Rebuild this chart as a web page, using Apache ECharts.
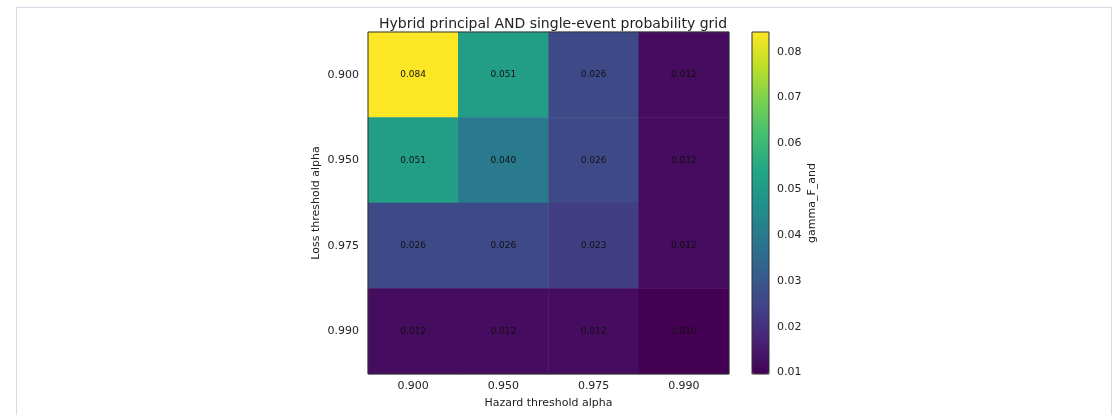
<!DOCTYPE html>
<html>
<head>
<meta charset="utf-8">
<script src="https://cdn.jsdelivr.net/npm/echarts@6/dist/echarts.min.js"></script>
<style>
html,body{margin:0;padding:0;background:#fff;}
#frame{position:absolute;left:16px;top:7px;width:1094px;height:420px;border:1px solid #d5dce8;border-bottom:none;}
#main{position:absolute;left:0;top:0;width:1117px;height:415px;}
</style>
</head>
<body>
<div id="frame"></div>
<div id="main"></div>
<script>
// hazard alpha (columns) / loss alpha (rows)
var hazardAlpha = ['0.900', '0.950', '0.975', '0.990'];
var lossAlpha = ['0.900', '0.950', '0.975', '0.990'];
// gamma_F_and, one array per loss row
var row900 = [0.0843, 0.0512, 0.0262, 0.0121];
var row950 = [0.0512, 0.0401, 0.0262, 0.0121];
var row975 = [0.0262, 0.0262, 0.0232, 0.0121];
var row990 = [0.0121, 0.0121, 0.0121, 0.0097];
var colorbarTicks = [0.01, 0.02, 0.03, 0.04, 0.05, 0.06, 0.07, 0.08];
var vMin = 0.0097, vMax = 0.0843;

var viridis = ['#440154','#482475','#414487','#355f8d','#2a788e','#21918c',
               '#22a884','#44bf70','#7ad151','#bddf26','#fde725'];

var rows = [row900, row950, row975, row990];
var data = [];
for (var r = 0; r < rows.length; r++) {
    for (var c = 0; c < rows[r].length; c++) {
        data.push([c, r, rows[r][c]]);
    }
}

var font = 'DejaVu Sans';
var ink = '#222';

var option = {
    animation: false,
    textStyle: {fontFamily: font},
    title: {
        text: 'Hybrid principal AND single-event probability grid',
        left: 548, top: 12, textAlign: 'center',
        textStyle: {fontFamily: font, fontSize: 14, fontWeight: 'normal', color: ink}
    },
    grid: [
        {left: 368, top: 32, width: 361, height: 342, show: true, z: 10,
         backgroundColor: 'transparent', borderColor: '#333', borderWidth: 1},
        {left: 752, top: 32, width: 17, height: 342, show: true, z: 10,
         backgroundColor: 'transparent', borderColor: '#333', borderWidth: 1}
    ],
    xAxis: [
        {
            type: 'category', gridIndex: 0, data: hazardAlpha,
            name: 'Hazard threshold alpha', nameLocation: 'middle', nameGap: 24,
            nameTextStyle: {fontFamily: font, fontSize: 11, color: ink},
            axisLine: {show: false},
            axisTick: {alignWithLabel: true, length: 4, lineStyle: {color: '#333'}},
            axisLabel: {fontFamily: font, fontSize: 11, color: ink, margin: 7},
            splitLine: {show: false}
        },
        {type: 'value', gridIndex: 1, show: false, min: 0, max: 1}
    ],
    yAxis: [
        {
            type: 'category', gridIndex: 0, data: lossAlpha, inverse: true,
            name: 'Loss threshold alpha', nameLocation: 'middle', nameGap: 46,
            nameTextStyle: {fontFamily: font, fontSize: 11, color: ink},
            axisLine: {show: false},
            axisTick: {alignWithLabel: true, length: 4, lineStyle: {color: '#333'}},
            axisLabel: {fontFamily: font, fontSize: 11, color: ink, margin: 9},
            splitLine: {show: false}
        },
        {
            type: 'value', gridIndex: 1, position: 'right', min: vMin, max: vMax,
            name: 'gamma_F_and', nameLocation: 'middle', nameGap: 38, nameRotate: 90,
            nameTextStyle: {fontFamily: font, fontSize: 11, color: ink},
            axisLine: {show: false},
            axisTick: {show: true, length: 4, customValues: colorbarTicks, lineStyle: {color: '#333'}},
            axisLabel: {fontFamily: font, fontSize: 11, color: ink, margin: 8,
                        customValues: colorbarTicks,
                        formatter: function (v) { return v.toFixed(2); }},
            splitLine: {show: false}
        }
    ],
    visualMap: {
        type: 'continuous', seriesIndex: 0, min: vMin, max: vMax,
        orient: 'vertical', left: 752, top: 32, itemWidth: 17, itemHeight: 342,
        padding: 0, text: null, showLabel: false, calculable: false, hoverLink: false,
        inRange: {color: viridis}, z: 4
    },
    series: [{
        type: 'heatmap', xAxisIndex: 0, yAxisIndex: 0, data: data,
        itemStyle: {borderWidth: 0},
        label: {
            show: true, fontFamily: font, fontSize: 9, color: '#111',
            formatter: function (p) { return p.value[2].toFixed(3); }
        },
        emphasis: {disabled: true}
    }]
};

echarts.init(document.getElementById('main')).setOption(option);
</script>
</body>
</html>
